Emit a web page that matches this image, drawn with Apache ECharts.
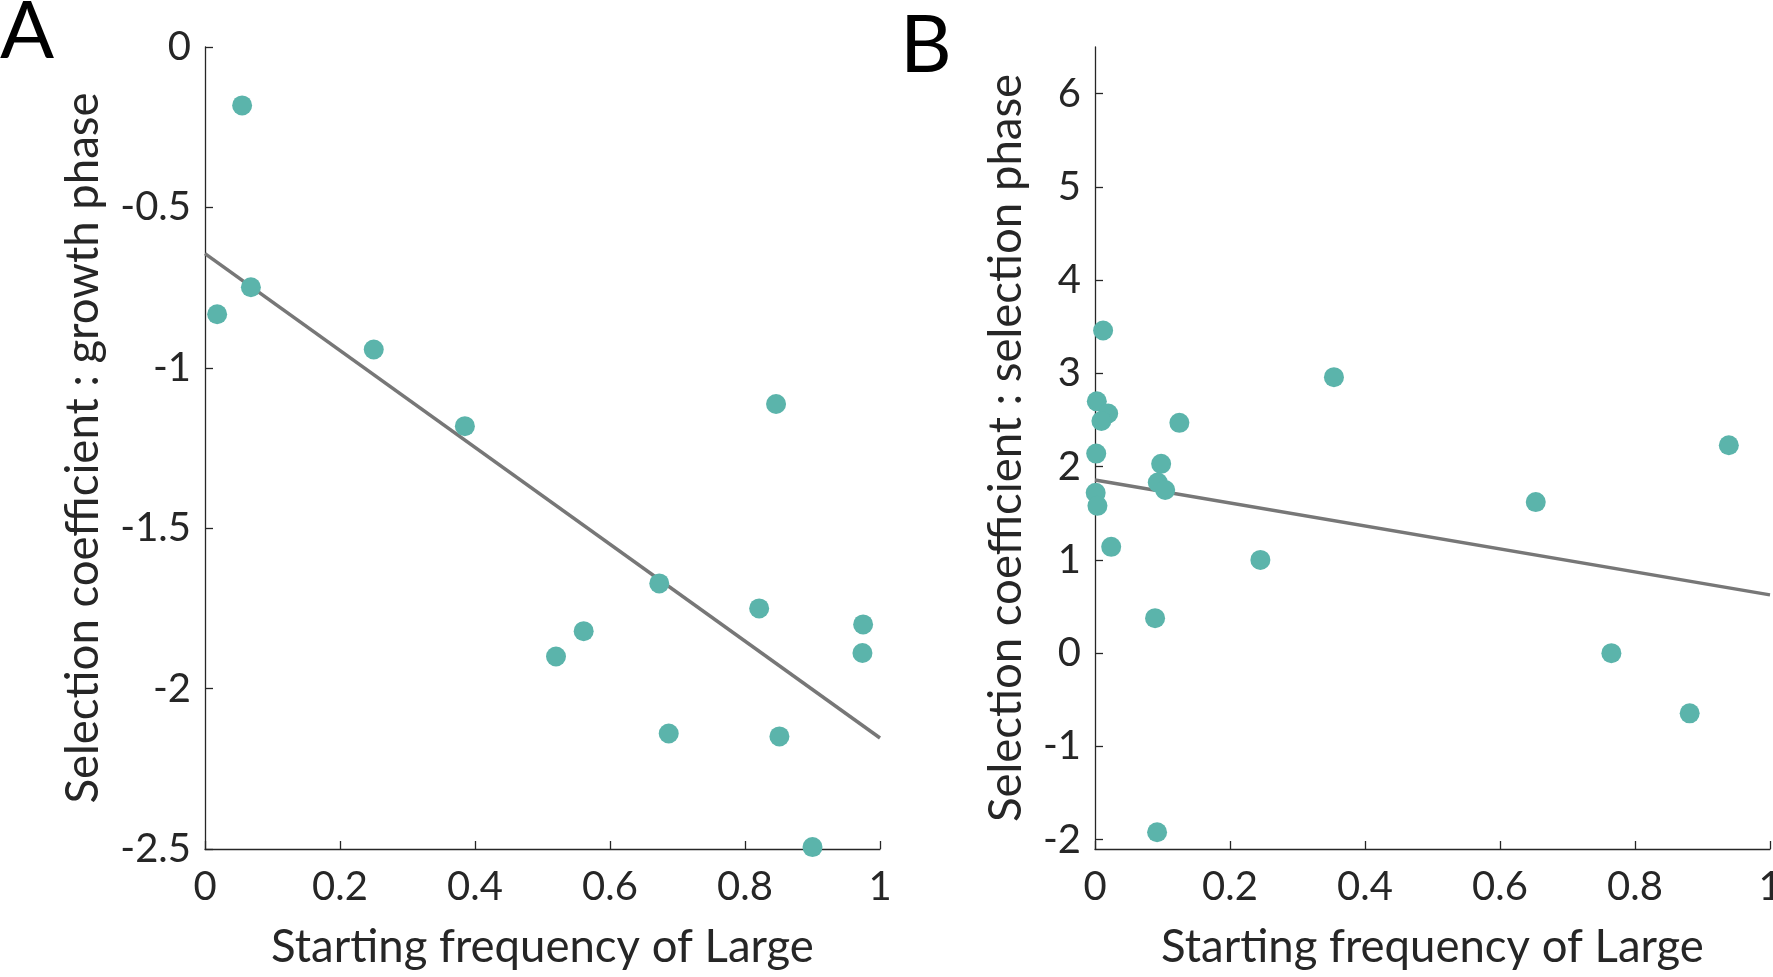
<!DOCTYPE html>
<html>
<head>
<meta charset="utf-8">
<script src="https://cdn.jsdelivr.net/npm/echarts@6/dist/echarts.min.js"></script>
<style>
html,body{margin:0;padding:0;background:#fff;overflow:hidden;}
#c{width:1773px;height:977px;}
</style>
</head>
<body>
<div id="c"></div>
<script>
// Panel A: growth phase
const aX = [0.055, 0.018, 0.068, 0.250, 0.385, 0.846, 0.520, 0.561, 0.673, 0.821, 0.975, 0.974, 0.687, 0.851, 0.900];
const aY = [-0.182, -0.833, -0.749, -0.943, -1.182, -1.113, -1.900, -1.821, -1.672, -1.750, -1.800, -1.889, -2.140, -2.149, -2.494];
const aFitX = [0, 1];
const aFitY = [-0.644, -2.154];
// Panel B: selection phase
const bX = [0.012, 0.354, 0.0027, 0.0195, 0.0095, 0.125, 0.0018, 0.098, 0.093, 0.104, 0.001, 0.0036, 0.024, 0.245, 0.653, 0.939, 0.089, 0.765, 0.881, 0.092];
const bY = [3.46, 2.96, 2.70, 2.57, 2.49, 2.47, 2.14, 2.03, 1.83, 1.75, 1.72, 1.58, 1.14, 1.00, 1.62, 2.23, 0.375, 0.0, -0.645, -1.92];
const bFitX = [0, 1];
const bFitY = [1.857, 0.625];
// tick labels
const xTicks = [0, 0.2, 0.4, 0.6, 0.8, 1];
const bYTicks = [-2, -1, 0, 1, 2, 3, 4, 5, 6];
const xTitle = 'Starting frequency of Large';
const aYTitle = 'Selection coefficient : growth phase';
const bYTitle = 'Selection coefficient : selection phase';

const FONT = 'Lato';
const AX = '#262626';
const DOT = '#5BB4AB';
const LINE = '#777777';

function zip(xs, ys){ return xs.map((x,i)=>[x, ys[i]]); }

const axisCommon = {
  axisLine: {show: true, onZero: false, lineStyle: {color: AX, width: 1.3}},
  axisTick: {show: true, inside: true, length: 8, lineStyle: {color: AX, width: 1.3}},
  splitLine: {show: false},
  axisLabel: {color: AX, fontFamily: FONT, fontSize: 40, showMinLabel: true, showMaxLabel: true},
  nameTextStyle: {color: AX, fontFamily: FONT, fontSize: 45.5}
};

function xAxisDef(gi){
  return Object.assign({}, axisCommon, {
    type: 'value', gridIndex: gi, min: 0, max: 1, interval: 0.2,
    name: xTitle, nameLocation: 'middle', nameGap: 75,
    axisLabel: Object.assign({}, axisCommon.axisLabel, {margin: 18, customValues: xTicks}),
    axisTick: Object.assign({}, axisCommon.axisTick, {customValues: xTicks})
  });
}

const option = {
  backgroundColor: '#fff',
  animation: false,
  grid: [
    {left: 205, top: 47, width: 675, height: 802, containLabel: false, outerBoundsMode: 'none'},
    {left: 1095, top: 47, width: 675, height: 802, containLabel: false, outerBoundsMode: 'none'}
  ],
  xAxis: [xAxisDef(0), xAxisDef(1)],
  yAxis: [
    Object.assign({}, axisCommon, {
      type: 'value', gridIndex: 0, min: -2.5, max: 0, interval: 0.5,
      name: aYTitle, nameLocation: 'middle', nameGap: 99,
      axisLabel: Object.assign({}, axisCommon.axisLabel, {margin: 14})
    }),
    Object.assign({}, axisCommon, {
      type: 'value', gridIndex: 1, min: -2.1, max: 6.5,
      name: bYTitle, nameLocation: 'middle', nameGap: 66,
      axisLabel: Object.assign({}, axisCommon.axisLabel, {margin: 14, customValues: bYTicks}),
      axisTick: Object.assign({}, axisCommon.axisTick, {customValues: bYTicks})
    })
  ],
  graphic: [
    {type: 'text', left: 0, top: -8, style: {text: 'A', font: '80px Lato', fill: '#000'}},
    {type: 'text', left: 900, top: 6, style: {text: 'B', font: '80px Lato', fill: '#000'}}
  ],
  series: [
    {type: 'line', xAxisIndex: 0, yAxisIndex: 0, data: zip(aFitX, aFitY), showSymbol: false, symbol: 'none',
     lineStyle: {color: LINE, width: 3.5}, z: 2, clip: false},
    {type: 'scatter', xAxisIndex: 0, yAxisIndex: 0, data: zip(aX, aY), symbolSize: 20,
     itemStyle: {color: DOT, opacity: 1}, z: 3, clip: false},
    {type: 'line', xAxisIndex: 1, yAxisIndex: 1, data: zip(bFitX, bFitY), showSymbol: false, symbol: 'none',
     lineStyle: {color: LINE, width: 3.5}, z: 2, clip: false},
    {type: 'scatter', xAxisIndex: 1, yAxisIndex: 1, data: zip(bX, bY), symbolSize: 20,
     itemStyle: {color: DOT, opacity: 1}, z: 3, clip: false}
  ]
};

const chart = echarts.init(document.getElementById('c'), null, {renderer: 'canvas'});
chart.setOption(option);
</script>
</body>
</html>
